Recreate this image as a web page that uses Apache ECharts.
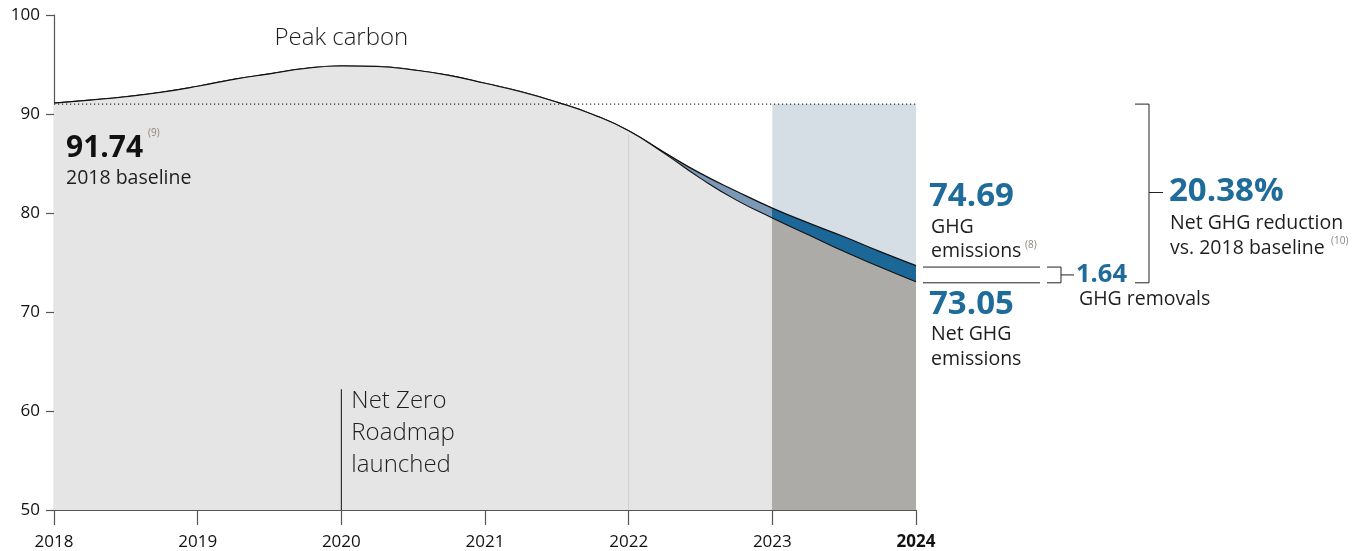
<!DOCTYPE html>
<html><head><meta charset="utf-8">
<script src="https://cdn.jsdelivr.net/npm/echarts@6/dist/echarts.min.js"></script>
<style>html,body{margin:0;padding:0;background:#fff}#c{width:1369px;height:551px}</style>
</head><body><div id="c"></div>
<script>
// ---- data ----
const years = [2018, 2018.25, 2018.5, 2018.75, 2019, 2019.25, 2019.5, 2019.75, 2020, 2020.25, 2020.5, 2020.75,
               2021, 2021.25, 2021.5, 2021.75, 2022, 2022.25, 2022.5, 2022.75, 2023, 2023.25, 2023.5, 2023.75, 2024];
const grossEmissions = [91.1, 91.4, 91.75, 92.2, 92.8, 93.5, 94.05, 94.6, 94.85, 94.8, 94.45, 93.9,
                        93.1, 92.25, 91.2, 89.95, 88.3, 86.1, 84.0, 82.2, 80.5, 79.0, 77.6, 76.1, 74.69];
const netEmissions   = [91.1, 91.4, 91.75, 92.2, 92.8, 93.5, 94.05, 94.6, 94.85, 94.8, 94.45, 93.9,
                        93.1, 92.25, 91.2, 89.95, 88.3, 86.0, 83.5, 81.3, 79.5, 77.8, 76.1, 74.55, 73.05];
const baselineValue = 91.0;
const xTickLabels = ['2018', '2019', '2020', '2021', '2022', '2023', '2024'];
const yTickLabels = ['50', '60', '70', '80', '90', '100'];
const reportYears = [2023, 2024];
const roadmapYear = 2020;
const roadmapTop = 62.2;
const dividerYear = 2022;
const grossLabel = 74.69, netLabel = 73.05, removalsLabel = 1.64, reductionLabel = '20.38%';

// ---- colours ----
const C = {
  lightGray: '#e5e5e5', darkGray: '#acaba7', bandLight: '#7b98b6', blue: '#1b6898',
  rect: '#d5dde5', text: '#1f6b9a', ink: '#1e1e1e', sup: '#8c847e'
};
const FONT = '"Open Sans", "Lato", sans-serif';

const xMin = years[0], xMax = years[years.length - 1];
const f = (reportYears[0] - xMin) / (xMax - xMin);
function hardGrad(a, b) {
  return new echarts.graphic.LinearGradient(0, 0, 1, 0, [
    {offset: 0, color: a}, {offset: f, color: a}, {offset: f, color: b}, {offset: 1, color: b}
  ]);
}
const pair = (xs, ys) => xs.map((x, i) => [x, ys[i]]);

const chart = echarts.init(document.getElementById('c'), null, {renderer: 'canvas'});
const option = {
  animation: false,
  grid: {left: 54, top: 15, right: 453, bottom: 41},
  xAxis: {
    type: 'value', min: 2018, max: 2024, interval: 1,
    axisLine: {lineStyle: {color: '#555', width: 1.2}},
    axisTick: {show: true, length: 15, lineStyle: {color: '#555', width: 1.2}},
    splitLine: {show: false},
    axisLabel: {
      margin: 24, fontSize: 17, color: '#111', fontFamily: FONT,
      formatter: v => { const s = xTickLabels[Math.round(v - 2018)]; return s === '2024' ? '{b|' + s + '}' : s; },
      rich: {b: {fontWeight: 'bold', fontSize: 17, color: '#111', fontFamily: FONT}}
    }
  },
  yAxis: {
    type: 'value', min: 50, max: 100, interval: 10,
    axisLine: {show: true, lineStyle: {color: '#555', width: 1.2}},
    axisTick: {show: true, length: 8, lineStyle: {color: '#555', width: 1.2}},
    splitLine: {show: false},
    axisLabel: {margin: 14, fontSize: 17, color: '#111', fontFamily: FONT,
      formatter: v => yTickLabels[Math.round((v - 50) / 10)]}
  },
  series: [
    { // reporting-year shaded rectangle
      type: 'line', z: 1, symbol: 'none', silent: true,
      data: reportYears.map(x => [x, baselineValue]),
      lineStyle: {width: 0}, areaStyle: {color: C.rect, opacity: 1, origin: 'start'}
    },
    { // gross emissions
      type: 'line', z: 2, symbol: 'none', smooth: 0.5, silent: true,
      data: pair(years, grossEmissions),
      lineStyle: {color: '#111', width: 1.3},
      areaStyle: {color: hardGrad(C.bandLight, C.blue), opacity: 1, origin: 'start'}
    },
    { // net emissions
      type: 'line', z: 3, symbol: 'none', smooth: 0.5, silent: true,
      data: pair(years, netEmissions),
      lineStyle: {color: '#111', width: 1.1},
      areaStyle: {color: hardGrad(C.lightGray, C.darkGray), opacity: 1, origin: 'start'}
    },
    { // divider at 2022
      type: 'line', z: 4, symbol: 'none', silent: true,
      data: [[dividerYear, 50], [dividerYear, netEmissions[years.indexOf(dividerYear)] - 0.3]],
      lineStyle: {color: '#cfcfcf', width: 1}
    },
    { // baseline dotted
      type: 'line', z: 5, symbol: 'none', silent: true,
      data: [[xMin, baselineValue], [xMax, baselineValue]],
      lineStyle: {color: '#333', width: 1.2, type: [1.2, 2.8]}
    },
    { // net zero roadmap marker
      type: 'line', z: 5, symbol: 'none', silent: true,
      data: [[roadmapYear, 50], [roadmapYear, roadmapTop]],
      lineStyle: {color: '#111', width: 1}
    }
  ]
};
chart.setOption(option);

// ---- annotations anchored to values ----
const py = v => chart.convertToPixel({gridIndex: 0}, [2024, v])[1];
const px = v => chart.convertToPixel({gridIndex: 0}, [v, 50])[0];
const yG = py(grossLabel) + 1.5, yN = py(netLabel) + 1, yB = py(baselineValue);
const xR = px(2024);

function txt(t, x, y, size, opts = {}) {
  return {type: 'text', silent: true, z: 10, style: {
    text: t, x, y, font: (opts.weight || 'normal') + ' ' + size + 'px ' + FONT,
    fill: opts.fill || C.ink, align: opts.align || 'left', verticalAlign: opts.va || 'middle',
    lineHeight: opts.lh
  }};
}
function ln(x1, y1, x2, y2) {
  return {type: 'line', silent: true, z: 10, shape: {x1, y1, x2, y2}, style: {stroke: '#222', lineWidth: 1}};
}
const midG = (yG + yN) / 2;
const S = 19.5;
const graphics = [
  txt('Peak carbon', px(2020), 38, 24, {align: 'center', weight: 300}),
  txt('91.74', 66, 148, 30, {weight: 'bold', fill: '#111'}),
  txt('(9)', 148, 133, 10, {fill: C.sup}),
  txt('2018 baseline', 66, 178, S),
  txt('Net Zero\nRoadmap\nlaunched', px(roadmapYear) + 10, 385, 24, {weight: 300, va: 'top', lh: 32}),
  txt(String(grossLabel), xR + 13, 197, 33, {weight: 'bold', fill: C.text}),
  txt('GHG', xR + 15, 227, S),
  txt('emissions', xR + 15, 251, S),
  txt('(8)', xR + 109, 245, 10, {fill: C.sup}),
  txt(String(netLabel), xR + 13, 305, 33, {weight: 'bold', fill: C.text}),
  txt('Net GHG', xR + 15, 334, S),
  txt('emissions', xR + 15, 359, S),
  txt(String(removalsLabel), xR + 160, midG, 25.5, {weight: 'bold', fill: C.text}),
  txt('GHG removals', xR + 163, 299, S),
  txt(reductionLabel, xR + 253, 192, 33, {weight: 'bold', fill: C.text}),
  txt('Net GHG reduction', xR + 254, 223, S),
  txt('vs. 2018 baseline', xR + 254, 248, S),
  txt('(10)', xR + 415, 241, 10, {fill: C.sup}),
  ln(xR + 7, yG, xR + 124, yG),
  ln(xR + 7, yN, xR + 124, yN),
  ln(xR + 131, yG, xR + 145, yG),
  ln(xR + 131, yN, xR + 145, yN),
  ln(xR + 145, yG, xR + 145, yN),
  ln(xR + 145, midG, xR + 158, midG),
  ln(xR + 219, yB, xR + 233, yB),
  ln(xR + 219, yN, xR + 233, yN),
  ln(xR + 233, yB, xR + 233, yN),
  ln(xR + 233, 192.5, xR + 247, 192.5)
];
chart.setOption({graphic: graphics});
</script></body></html>
